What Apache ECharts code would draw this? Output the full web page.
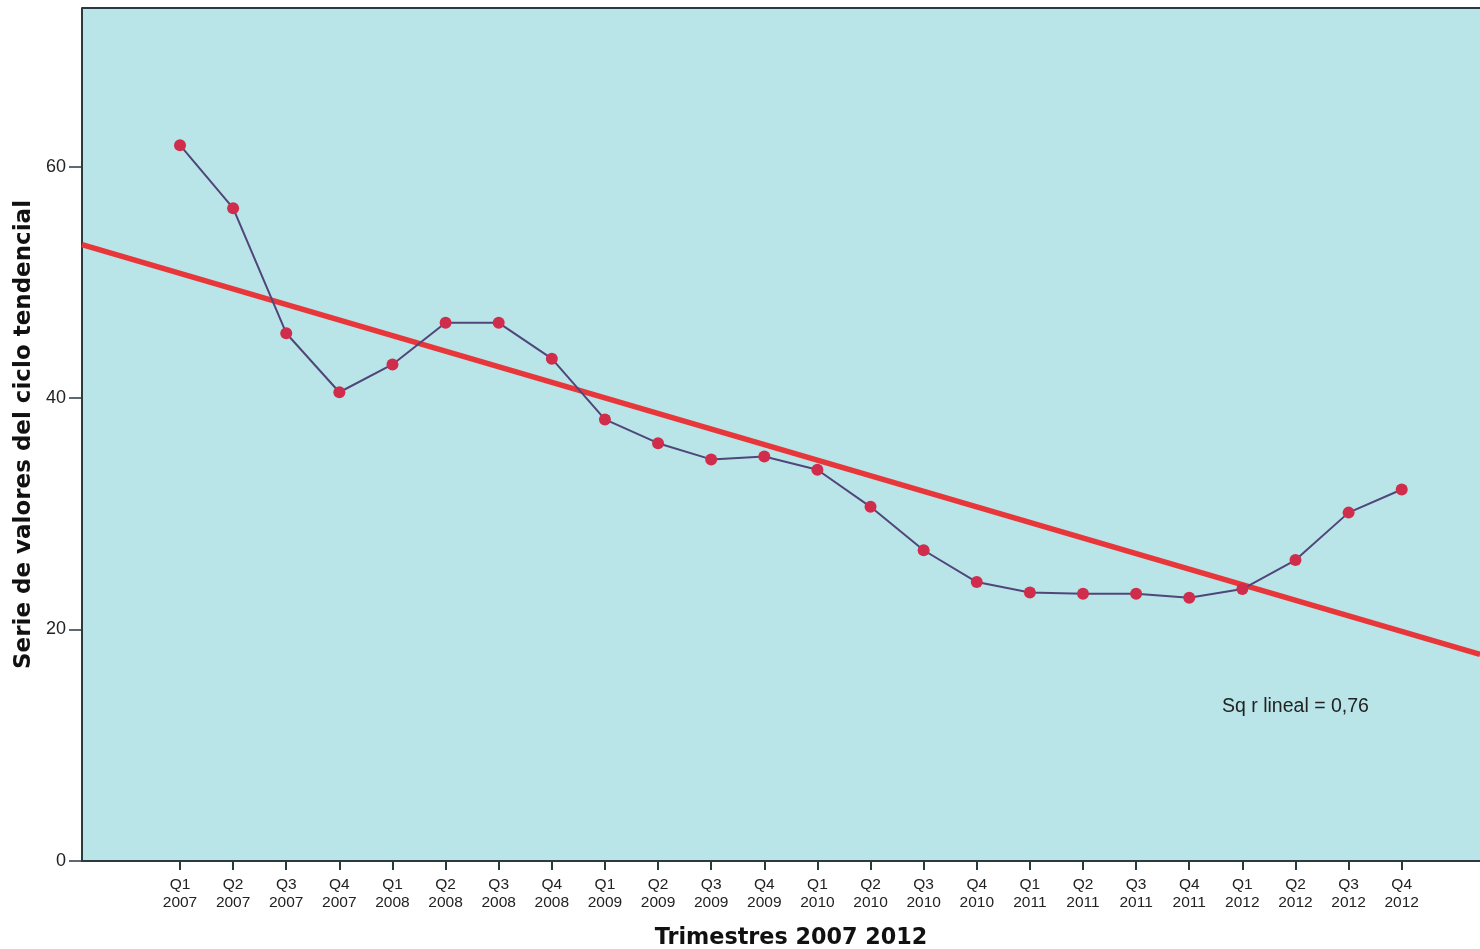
<!DOCTYPE html>
<html>
<head>
<meta charset="utf-8">
<script src="https://cdn.jsdelivr.net/npm/echarts@6/dist/echarts.min.js"></script>
<style>html,body{margin:0;padding:0;background:#fff;}#chart{width:1480px;height:949px;}</style>
</head>
<body>
<div id="chart"></div>
<script>
// ---- data ----
const quarters = ['Q1','Q2','Q3','Q4','Q1','Q2','Q3','Q4','Q1','Q2','Q3','Q4','Q1','Q2','Q3','Q4','Q1','Q2','Q3','Q4','Q1','Q2','Q3','Q4'];
const years = ['2007','2007','2007','2007','2008','2008','2008','2008','2009','2009','2009','2009','2010','2010','2010','2010','2011','2011','2011','2011','2012','2012','2012','2012'];
const xIndex = [1,2,3,4,5,6,7,8,9,10,11,12,13,14,15,16,17,18,19,20,21,22,23,24];
const values = [61.85,56.4,45.6,40.5,42.9,46.5,46.5,43.4,38.15,36.1,34.7,34.95,33.8,30.6,26.85,24.1,23.2,23.1,23.1,22.75,23.5,26.0,30.1,32.1];
const trendX = [-0.845, 25.474];
const trendY = [53.25, 17.85];
const yTicks = [0,20,40,60];
const annotation = 'Sq r lineal = 0,76';

const chart = echarts.init(document.getElementById('chart'), null, {renderer:'canvas'});
const labelFont = 'Arial, "Liberation Sans", sans-serif';
const titleFont = '"DejaVu Sans", Verdana, sans-serif';
chart.setOption({
  animation:false,
  backgroundColor:'#ffffff',
  grid:{left:82, right:0, top:8, bottom:88, outerBoundsMode:'none', containLabel:false,
        show:true, backgroundColor:'#b9e5e8', borderWidth:0},
  xAxis:{
    type:'value', min:trendX[0], max:trendX[1],
    name:'Trimestres 2007 2012', nameLocation:'middle', nameGap:66,
    nameTextStyle:{fontFamily:titleFont, fontWeight:'bold', fontSize:22.3, color:'#111', padding:[0,0,0,20]},
    axisLine:{show:true, onZero:false, lineStyle:{color:'#2a3a40', width:2}},
    axisTick:{show:true, length:9, lineStyle:{color:'#2a3a40', width:2}, customValues:xIndex},
    axisLabel:{fontFamily:labelFont, fontSize:15.5, color:'#222', lineHeight:18, margin:15,
      customValues:xIndex,
      formatter:function(v){const i=Math.round(v)-1; return (i>=0&&i<24)?quarters[i]+'\n'+years[i]:'';}},
    splitLine:{show:false}
  },
  yAxis:{
    type:'value', min:0, max:73.7,
    name:'Serie de valores del ciclo tendencial', nameLocation:'middle', nameGap:42,
    nameTextStyle:{fontFamily:titleFont, fontWeight:'bold', fontSize:23, color:'#111'},
    axisLine:{show:true, onZero:false, lineStyle:{color:'#2a3a40', width:2}},
    axisTick:{show:true, length:13, lineStyle:{color:'#2a3a40', width:1.5}, customValues:yTicks},
    axisLabel:{fontFamily:labelFont, fontSize:18, color:'#222', margin:16, customValues:yTicks},
    splitLine:{show:false}
  },
  graphic:[
    {type:'line', shape:{x1:82, y1:8, x2:1480, y2:8}, style:{stroke:'#2a3a40', lineWidth:2}, z:10},
    {type:'text', left:1222, top:697, style:{text:annotation, font:'19.5px Arial, "Liberation Sans", sans-serif', fill:'#222'}, z:10}
  ],
  series:[
    {
      type:'line', data:xIndex.map((x,i)=>[x, values[i]]),
      symbol:'circle', symbolSize:12,
      lineStyle:{color:'#4f467a', width:2},
      itemStyle:{color:'#d02c4c', borderWidth:0},
      z:3
    },
    {
      type:'line', data:trendX.map((x,i)=>[x, trendY[i]]),
      symbol:'none', lineStyle:{color:'#e8373a', width:5.5},
      z:2
    }
  ]
});
</script>
</body>
</html>
